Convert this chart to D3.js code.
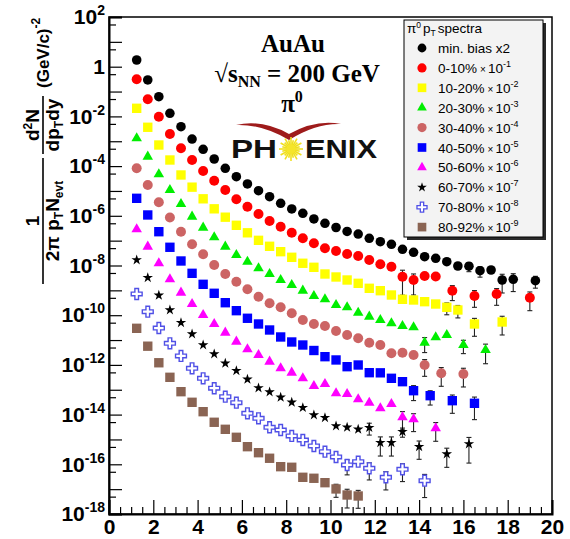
<!DOCTYPE html>
<html>
<head>
<meta charset="utf-8">
<script src="https://cdn.jsdelivr.net/npm/d3@7"></script>
<style>
  html, body { margin: 0; padding: 0; background: #fff; }
  svg { display: block; }
</style>
</head>
<body>
<svg id="chart" width="570" height="539"></svg>
<script>
// ---- pi0 invariant yields, Au+Au at sqrt(sNN) = 200 GeV ----
// pT bin centres (GeV/c), yields (already multiplied by the legend factor), relative errors

const ptMinBias = [1.25,1.75,2.25,2.75,3.25,3.75,4.25,4.75,5.25,5.75,6.25,6.75,7.25,7.75,8.25,8.75,9.25,9.75,10.25,10.75,11.25,11.75,12.25,12.75,13.25,13.75,14.25,14.75,15.25,15.75,16.25,16.75,17.25,17.75,18.25,19.25];
const yMinBias = [1.86,0.292,6.2e-2,1.33e-2,3.85e-3,1.23e-3,4.74e-4,1.93e-4,8.17e-5,3.75e-5,1.91e-5,1.02e-5,5.87e-6,3.18e-6,1.88e-6,1.26e-6,7.45e-7,4.99e-7,3.38e-7,2.34e-7,1.85e-7,1.24e-7,9.08e-8,7.13e-8,4.49e-8,3.40e-8,2.26e-8,1.95e-8,1.42e-8,9.55e-9,9.4e-9,6.18e-9,6.59e-9,2.61e-9,2.79e-9,2.45e-9];
const eMinBias = [0.05,0.05,0.05,0.05,0.05,0.05,0.05,0.05,0.05,0.05,0.05,0.05,0.05,0.05,0.05,0.05,0.05,0.05,0.05,0.05,0.05,0.05,0.05,0.05,0.1,0.15,0.2,0.25,0.3,0.35,0.4,0.45,0.35,0.7,0.68,0.5];

const pt0010 = [1.25,1.75,2.25,2.75,3.25,3.75,4.25,4.75,5.25,5.75,6.25,6.75,7.25,7.75,8.25,8.75,9.25,9.75,10.25,10.75,11.25,11.75,12.25,12.75,13.25,13.75,14.25,14.75,15.5,16.5,17.5,19.0];
const y0010 = [0.311,4.88e-2,9.73e-3,1.96e-3,5.20e-4,1.76e-4,6.35e-5,2.59e-5,1.09e-5,4.61e-6,2.32e-6,1.18e-6,6.18e-7,3.65e-7,2.09e-7,1.24e-7,7.83e-8,4.92e-8,3.84e-8,2.90e-8,2.42e-8,1.67e-8,1.12e-8,8.95e-9,3.55e-9,2.61e-9,3.78e-9,3.6e-9,9.68e-10,5.93e-10,7.14e-10,5.07e-10];
const e0010 = [0.05,0.05,0.05,0.05,0.05,0.05,0.05,0.05,0.05,0.05,0.05,0.05,0.05,0.05,0.05,0.05,0.05,0.05,0.05,0.05,0.15,0.2,0.3,0.35,0.82,0.75,0.2,0.2,0.6,0.65,0.65,0.7];

const pt1020 = [1.25,1.75,2.25,2.75,3.25,3.75,4.25,4.75,5.25,5.75,6.25,6.75,7.25,7.75,8.25,8.75,9.25,9.75,10.25,10.75,11.25,11.75,12.25,12.75,13.25,13.75,14.25,14.75,15.25,15.75,16.5,17.75];
const y1020 = [2.12e-2,3.65e-3,7.06e-4,1.76e-4,4.39e-5,1.42e-5,4.83e-6,1.91e-6,8.79e-7,4.15e-7,2.07e-7,1.03e-7,5.93e-8,3.60e-8,2.14e-8,1.23e-8,8.47e-9,4.55e-9,3.45e-9,2.61e-9,1.92e-9,1.21e-9,9.68e-10,6.50e-10,4.37e-10,4.09e-10,3.50e-10,2.82e-10,2.08e-10,1.62e-10,4.43e-11,5.33e-11];
const e1020 = [0.05,0.05,0.05,0.05,0.05,0.05,0.05,0.05,0.05,0.05,0.05,0.05,0.05,0.05,0.05,0.05,0.05,0.05,0.05,0.05,0.05,0.05,0.05,0.15,0.2,0.2,0.3,0.35,0.5,0.52,0.68,0.7];

const pt2030 = [1.25,1.75,2.25,2.75,3.25,3.75,4.25,4.75,5.25,5.75,6.25,6.75,7.25,7.75,8.25,8.75,9.25,9.75,10.25,10.75,11.25,11.75,12.25,12.75,13.25,13.75,14.25,14.75,15.25,16.0,17.0];
const y2030 = [1.32e-3,2.39e-4,4.68e-5,1.09e-5,2.99e-6,9.20e-7,3.32e-7,1.36e-7,5.71e-8,2.65e-8,1.42e-8,7.73e-9,4.55e-9,2.61e-9,1.64e-9,9.68e-10,5.93e-10,4.37e-10,2.58e-10,2.08e-10,1.26e-10,8.71e-11,6.41e-11,4.72e-11,3.68e-11,3.26e-11,7.83e-12,1.29e-11,1.60e-11,6.32e-12,3.98e-12];
const e2030 = [0.05,0.05,0.05,0.05,0.05,0.05,0.05,0.05,0.05,0.05,0.05,0.05,0.05,0.05,0.05,0.05,0.05,0.05,0.05,0.05,0.05,0.1,0.15,0.2,0.2,0.25,0.6,0.3,0.35,0.55,0.72];

const pt3040 = [1.25,1.75,2.25,2.75,3.25,3.75,4.25,4.75,5.25,5.75,6.25,6.75,7.25,7.75,8.25,8.75,9.25,9.75,10.25,10.75,11.25,11.75,12.25,12.75,13.25,13.75,14.25,15.0,16.0];
const y3040 = [8.17e-5,1.74e-5,3.53e-6,8.55e-7,2.29e-7,7.13e-8,2.82e-8,1.05e-8,4.55e-9,2.23e-9,1.10e-9,5.56e-10,3.01e-10,2.08e-10,1.19e-10,6.41e-11,4.43e-11,3.68e-11,2.32e-11,1.60e-11,1.18e-11,7.83e-12,6.32e-12,2.93e-12,3.10e-12,2.51e-12,9.91e-13,4.59e-13,4.31e-13];
const e3040 = [0.05,0.05,0.05,0.05,0.05,0.05,0.05,0.05,0.05,0.05,0.05,0.05,0.05,0.05,0.05,0.05,0.05,0.05,0.05,0.05,0.05,0.1,0.15,0.25,0.25,0.3,0.65,0.7,0.7];

const pt4050 = [1.25,1.75,2.25,2.75,3.25,3.75,4.25,4.75,5.25,5.75,6.25,6.75,7.25,7.75,8.25,8.75,9.25,9.75,10.25,10.75,11.25,11.75,12.25,12.75,13.25,13.75,14.5,15.5,16.5];
const y4050 = [5.06e-6,1.08e-6,2.29e-7,5.41e-8,1.52e-8,4.85e-9,1.75e-9,7.62e-10,3.18e-10,1.52e-10,7.52e-11,4.43e-11,2.54e-11,1.33e-11,8.36e-12,6.32e-12,3.80e-12,2.14e-12,1.58e-12,8.47e-13,9.91e-13,4.86e-13,4.8e-13,2.89e-13,2.11e-13,9.16e-14,5.77e-14,3.63e-14,2.85e-14];
const e4050 = [0.05,0.05,0.05,0.05,0.05,0.05,0.05,0.05,0.05,0.05,0.05,0.05,0.05,0.05,0.05,0.05,0.05,0.05,0.05,0.05,0.1,0.15,0.2,0.25,0.3,0.6,0.58,0.69,0.78];

const pt5060 = [1.25,1.75,2.25,2.75,3.25,3.75,4.25,4.75,5.25,5.75,6.25,6.75,7.25,7.75,8.25,8.75,9.25,9.75,10.25,10.75,11.25,11.75,12.25,12.75,13.25,13.75,14.75];
const y5060 = [2.86e-7,5.71e-8,1.23e-8,2.79e-9,8.05e-10,2.82e-10,1.02e-10,4.43e-11,1.98e-11,8.59e-12,4.25e-12,2.51e-12,1.35e-12,7.31e-13,4.86e-13,2.89e-13,1.42e-13,1.71e-13,7.21e-14,6.76e-14,4.13e-14,3.01e-14,1.79e-14,2.67e-14,7.80e-15,6.47e-15,2.81e-15];
const e5060 = [0.05,0.05,0.05,0.05,0.05,0.05,0.05,0.05,0.05,0.05,0.05,0.05,0.05,0.05,0.05,0.05,0.05,0.05,0.05,0.05,0.15,0.2,0.3,0.3,0.69,0.68,0.7];

const pt6070 = [1.25,1.75,2.25,2.75,3.25,3.75,4.25,4.75,5.25,5.75,6.25,6.75,7.25,7.75,8.25,8.75,9.25,9.75,10.25,10.75,11.25,11.75,12.25,12.75,13.25,14.0,15.25,16.25];
const y6070 = [1.67e-8,3.23e-9,6.32e-10,1.62e-10,5.00e-11,1.75e-11,6.32e-12,2.75e-12,1.16e-12,5.85e-13,2.64e-13,1.18e-13,8.13e-14,4.98e-14,3.13e-14,1.90e-14,9.64e-15,7.52e-15,3.48e-15,3.09e-15,2.56e-15,3.0e-15,7.41e-16,7.4e-16,2.05e-15,5.12e-16,2.60e-16,6.58e-16];
const e6070 = [0.05,0.05,0.05,0.05,0.05,0.05,0.05,0.05,0.05,0.05,0.05,0.05,0.05,0.05,0.05,0.05,0.05,0.05,0.25,0.3,0.3,0.5,0.71,0.71,0.4,0.69,0.71,0.83];

const pt7080 = [1.25,1.75,2.25,2.75,3.25,3.75,4.25,4.75,5.25,5.75,6.25,6.75,7.25,7.75,8.25,8.75,9.25,9.75,10.25,10.75,11.25,11.75,12.5,13.25,14.25];
const y7080 = [7.14e-10,1.38e-10,3.05e-11,7.41e-12,2.29e-12,7.31e-13,2.89e-13,1.15e-13,5.26e-14,3.01e-14,1.13e-14,7.11e-15,3.09e-15,2.40e-15,1.38e-15,9.51e-16,5.46e-16,3.22e-16,1.97e-16,9.38e-17,1.27e-16,6.90e-17,3.00e-17,6.30e-17,2.19e-17];
const e7080 = [0.05,0.05,0.05,0.05,0.05,0.05,0.05,0.05,0.05,0.05,0.05,0.05,0.05,0.05,0.05,0.05,0.1,0.2,0.3,0.6,0.3,0.66,0.69,0.68,0.79];

const pt8092 = [1.25,1.75,2.25,2.75,3.25,3.75,4.25,4.75,5.25,5.75,6.25,6.75,7.25,7.75,8.25,8.75,9.25,9.75,10.25,10.75,11.25];
const y8092 = [2.97e-11,5.66e-12,1.22e-12,3.17e-13,8.36e-14,3.13e-14,1.31e-14,4.91e-15,2.56e-15,1.22e-15,5.12e-16,2.93e-16,1.75e-16,8.02e-17,7.59e-17,3.00e-17,2.74e-17,1.82e-17,1.02e-17,5.82e-18,5.31e-18];
const e8092 = [0.05,0.05,0.05,0.05,0.05,0.05,0.05,0.05,0.05,0.05,0.05,0.05,0.05,0.05,0.05,0.15,0.2,0.3,0.54,0.7,0.68];

// legend text and scale factors (power of ten)
const classLabels = ["min. bias x2","0-10%","10-20%","20-30%","30-40%","40-50%","50-60%","60-70%","70-80%","80-92%"];
const classFactors = [null,-1,-2,-3,-4,-5,-6,-7,-8,-9];

// axis tick values
const xMajorTicks = [0,2,4,6,8,10,12,14,16,18,20];
const yLabelExps = [2,0,-2,-4,-6,-8,-10,-12,-14,-16,-18];

// ---- marker styles per class ----
const series = [
  {pt: ptMinBias, y: yMinBias, e: eMinBias, shape: d3.symbolCircle,   size: 72, fill: "#000000"},
  {pt: pt0010,    y: y0010,    e: e0010,    shape: d3.symbolCircle,   size: 78, fill: "#ff0000"},
  {pt: pt1020,    y: y1020,    e: e1020,    shape: d3.symbolSquare,   size: 88, fill: "#ffff00"},
  {pt: pt2030,    y: y2030,    e: e2030,    shape: d3.symbolTriangle, size: 48, fill: "#00ee00"},
  {pt: pt3040,    y: y3040,    e: e3040,    shape: d3.symbolCircle,   size: 78, fill: "#cc6464"},
  {pt: pt4050,    y: y4050,    e: e4050,    shape: d3.symbolSquare,   size: 88, fill: "#0000ff"},
  {pt: pt5060,    y: y5060,    e: e5060,    shape: d3.symbolTriangle, size: 48, fill: "#ff00ff"},
  {pt: pt6070,    y: y6070,    e: e6070,    shape: d3.symbolStar,     size: 34, fill: "#000000"},
  {pt: pt7080,    y: y7080,    e: e7080,    shape: d3.symbolCross,    size: 66, fill: "#ffffff", stroke: "#5050e6"},
  {pt: pt8092,    y: y8092,    e: e8092,    shape: d3.symbolSquare,   size: 88, fill: "#8a6453"}
];

// ---- frame and scales ----
const svg = d3.select("#chart");
const plot = {left: 109, right: 552, top: 17, bottom: 514};

const x = d3.scaleLinear().domain([0, 20]).range([plot.left, plot.right]);
const y = d3.scaleLog().domain([1e-18, 1e2]).range([plot.bottom, plot.top]);

const axisFont = "'Liberation Sans', Arial, Helvetica, sans-serif";

// frame
svg.append("rect")
  .attr("x", plot.left).attr("y", plot.top)
  .attr("width", plot.right - plot.left).attr("height", plot.bottom - plot.top)
  .attr("fill", "none").attr("stroke", "#000").attr("stroke-width", 1.5);

// x axis: major ticks with labels, minor ticks every 0.5
const xMinor = d3.range(0, 20.01, 0.5).filter(v => v % 2 !== 0);
svg.append("g")
  .attr("transform", `translate(0,${plot.bottom})`)
  .call(d3.axisBottom(x).tickValues(xMinor).tickSize(-7).tickFormat(""))
  .call(g => g.select(".domain").remove())
  .call(g => g.selectAll("line").attr("stroke", "#000").attr("stroke-width", 1.2));

svg.append("g")
  .attr("transform", `translate(0,${plot.bottom})`)
  .call(d3.axisBottom(x).tickValues(xMajorTicks).tickSize(-14).tickPadding(5).tickFormat(d3.format("d")))
  .call(g => g.select(".domain").attr("stroke", "#000").attr("stroke-width", 2))
  .call(g => g.selectAll("line").attr("stroke", "#000").attr("stroke-width", 1.2))
  .call(g => g.selectAll("text")
    .attr("font-family", axisFont).attr("font-weight", "bold")
    .attr("font-size", 21).attr("fill", "#000"));

// y axis: tick at each decade, short tick at 5 x 10^n, labels every second decade
const yDecades = d3.range(-18, 3).map(k => Math.pow(10, k));
const yFives = d3.range(-18, 2).map(k => 5 * Math.pow(10, k));
svg.append("g")
  .attr("transform", `translate(${plot.left},0)`)
  .call(d3.axisLeft(y).tickValues(yFives).tickSize(-7).tickFormat(""))
  .call(g => g.select(".domain").remove())
  .call(g => g.selectAll("line").attr("stroke", "#000").attr("stroke-width", 1.2));

svg.append("g")
  .attr("transform", `translate(${plot.left},0)`)
  .call(d3.axisLeft(y).tickValues(yDecades).tickSize(-13).tickFormat(""))
  .call(g => g.select(".domain").attr("stroke", "#000").attr("stroke-width", 2))
  .call(g => g.selectAll("line").attr("stroke", "#000").attr("stroke-width", 1.2));

const yLab = svg.append("g")
  .attr("transform", `translate(${plot.left},0)`)
  .call(d3.axisLeft(y).tickValues(yLabelExps.map(k => Math.pow(10, k))).tickSize(0).tickPadding(4).tickFormat(""))
  .call(g => g.select(".domain").remove());
yLab.selectAll(".tick text").each(function(d) {
  const t = d3.select(this)
    .attr("font-family", axisFont).attr("font-weight", "bold")
    .attr("font-size", 21).attr("fill", "#000").attr("text-anchor", "end");
  const k = Math.round(Math.log10(d));
  if (k === 0) { t.text("1"); return; }
  t.append("tspan").text("10");
  t.append("tspan").attr("font-size", 14).attr("dy", -9).text(String(k));
});

// ---- data: error bars then markers ----
svg.append("defs").append("clipPath").attr("id", "plotclip")
  .append("rect").attr("x", plot.left).attr("y", plot.top)
  .attr("width", plot.right - plot.left).attr("height", plot.bottom - plot.top);

const dataG = svg.append("g").attr("clip-path", "url(#plotclip)");

series.forEach(s => {
  const pts = s.pt.map((p, i) => ({p: p, v: s.y[i], e: s.e[i]}));
  const eg = dataG.append("g").attr("stroke", "#222").attr("stroke-width", 1.1);
  pts.forEach(d => {
    const lo = d.v * (1 - d.e), hi = d.v * (1 + d.e);
    const yLo = lo > 0 ? y(lo) : plot.bottom;
    const yHi = y(hi);
    if (yLo - yHi < 8) return;
    eg.append("line").attr("x1", x(d.p)).attr("x2", x(d.p)).attr("y1", yHi).attr("y2", yLo);
    eg.append("line").attr("x1", x(d.p) - 2.5).attr("x2", x(d.p) + 2.5).attr("y1", yLo).attr("y2", yLo);
    eg.append("line").attr("x1", x(d.p) - 2.5).attr("x2", x(d.p) + 2.5).attr("y1", yHi).attr("y2", yHi);
  });
  dataG.append("g").selectAll("path").data(pts).join("path")
    .attr("transform", d => `translate(${x(d.p)},${y(d.v)})`)
    .attr("d", d3.symbol().type(s.shape).size(s.size))
    .attr("fill", s.fill)
    .attr("stroke", s.stroke || "none")
    .attr("stroke-width", s.stroke ? 1.4 : 0);
});

// ---- legend ----
const lg = {x: 404, y: 20, w: 139, h: 217};
svg.append("rect").attr("x", lg.x + 3).attr("y", lg.y + 3).attr("width", lg.w).attr("height", lg.h).attr("fill", "#2a2a2a");
svg.append("rect").attr("x", lg.x).attr("y", lg.y).attr("width", lg.w).attr("height", lg.h)
  .attr("fill", "#f3f3f3").attr("stroke", "#000").attr("stroke-width", 1);

const lt = svg.append("text").attr("x", lg.x + 3).attr("y", lg.y + 13)
  .attr("font-family", axisFont).attr("font-size", 13.5).attr("fill", "#000");
lt.append("tspan").text("\u03c0");
lt.append("tspan").attr("font-size", 8.5).attr("dy", -5).text("0");
lt.append("tspan").attr("dy", 5).attr("dx", 2).text("p");
lt.append("tspan").attr("font-size", 8.5).attr("dy", 3).text("T");
lt.append("tspan").attr("dy", -3).attr("dx", 2).text("spectra");

classLabels.forEach((name, i) => {
  const cy = 48 + i * 19.9;
  const s = series[i];
  svg.append("path")
    .attr("transform", `translate(422,${cy})`)
    .attr("d", d3.symbol().type(s.shape).size(s.size * 0.85))
    .attr("fill", s.fill)
    .attr("stroke", s.stroke || "none")
    .attr("stroke-width", s.stroke ? 1.3 : 0);
  const t = svg.append("text").attr("x", 438).attr("y", cy + 5)
    .attr("font-family", axisFont).attr("font-size", 13.5).attr("fill", "#000");
  t.append("tspan").text(name);
  if (classFactors[i] !== null) {
    t.append("tspan").attr("font-size", 10).attr("dx", 3).text("\u00d7");
    t.append("tspan").attr("dx", 2).text("10");
    t.append("tspan").attr("font-size", 9).attr("dy", -6).text(String(classFactors[i]));
  }
});

// ---- collision system text ----
const serif = "'Liberation Serif', 'Times New Roman', serif";
svg.append("text").attr("x", 293).attr("y", 52).attr("text-anchor", "middle")
  .attr("font-family", serif).attr("font-weight", "bold").attr("font-size", 25).text("AuAu");

const rs = svg.append("text").attr("x", 297).attr("y", 82).attr("text-anchor", "middle")
  .attr("font-family", serif).attr("font-weight", "bold").attr("font-size", 25);
rs.append("tspan").attr("font-weight", "normal").text("\u221a");
rs.append("tspan").text("s");
rs.append("tspan").attr("font-size", 16).attr("dy", 5).text("NN");
rs.append("tspan").attr("dy", -5).text(" = 200 GeV");

const pz = svg.append("text").attr("x", 292).attr("y", 112).attr("text-anchor", "middle")
  .attr("font-family", serif).attr("font-weight", "bold").attr("font-size", 25);
pz.append("tspan").text("\u03c0");
pz.append("tspan").attr("font-size", 16).attr("dy", -10).text("0");

// ---- PHENIX logo ----
const logo = svg.append("g");
logo.append("path")
  .attr("d", "M236,125 Q262,119 289,134 Q316,119 341,124 Q316,123 289,140 Q262,124 236,125 Z")
  .attr("fill", "#9e1b1b");
const sun = {cx: 291, cy: 149};
const rays = d3.range(0, 24).map(i => i * Math.PI / 12);
logo.append("g").selectAll("line").data(rays).join("line")
  .attr("x1", a => sun.cx + 4 * Math.cos(a)).attr("y1", a => sun.cy + 4 * Math.sin(a))
  .attr("x2", (a, i) => sun.cx + (i % 2 ? 9 : 12) * Math.cos(a))
  .attr("y2", (a, i) => sun.cy + (i % 2 ? 9 : 12) * Math.sin(a))
  .attr("stroke", "#f0e020").attr("stroke-width", 1.6);
logo.append("circle").attr("cx", sun.cx).attr("cy", sun.cy).attr("r", 4.5).attr("fill", "#f5e52a");
logo.append("text").attr("x", 231).attr("y", 158).attr("textLength", 46).attr("lengthAdjust", "spacingAndGlyphs")
  .attr("font-family", axisFont).attr("font-weight", "bold").attr("font-size", 25).attr("fill", "#111").text("PH");
logo.append("text").attr("x", 305).attr("y", 158).attr("textLength", 72).attr("lengthAdjust", "spacingAndGlyphs")
  .attr("font-family", axisFont).attr("font-weight", "bold").attr("font-size", 25).attr("fill", "#111").text("ENIX");

// ---- y axis title (rotated) ----
const yt = svg.append("g").attr("transform", "translate(43,0) rotate(-90)")
  .attr("font-family", axisFont).attr("font-weight", "bold").attr("fill", "#000");
// 1 / (2 pi pT Nevt)
yt.append("line").attr("x1", -284).attr("x2", -158).attr("y1", 0).attr("y2", 0)
  .attr("stroke", "#000").attr("stroke-width", 1.6);
yt.append("text").attr("x", -221).attr("y", -4).attr("text-anchor", "middle").attr("font-size", 19).text("1");
const den1 = yt.append("text").attr("x", -221).attr("y", 16).attr("text-anchor", "middle").attr("font-size", 19);
den1.append("tspan").text("2\u03c0 p");
den1.append("tspan").attr("font-size", 12).attr("dy", 4).text("T");
den1.append("tspan").attr("dy", -4).text("N");
den1.append("tspan").attr("font-size", 12).attr("dy", 4).text("evt");
// d2N / dpT dy
yt.append("line").attr("x1", -154).attr("x2", -96).attr("y1", 0).attr("y2", 0)
  .attr("stroke", "#000").attr("stroke-width", 1.6);
const num2 = yt.append("text").attr("x", -125).attr("y", -4).attr("text-anchor", "middle").attr("font-size", 19);
num2.append("tspan").text("d");
num2.append("tspan").attr("font-size", 12).attr("dy", -7).text("2");
num2.append("tspan").attr("dy", 7).text("N");
const den2 = yt.append("text").attr("x", -125).attr("y", 16).attr("text-anchor", "middle").attr("font-size", 19);
den2.append("tspan").text("dp");
den2.append("tspan").attr("font-size", 12).attr("dy", 4).text("T");
den2.append("tspan").attr("dy", -4).text("dy");
// units
const un = yt.append("text").attr("x", -88).attr("y", 6).attr("font-size", 17);
un.append("tspan").text("(GeV/c)");
un.append("tspan").attr("font-size", 12).attr("dy", -9).text("-2");
</script>
</body>
</html>
